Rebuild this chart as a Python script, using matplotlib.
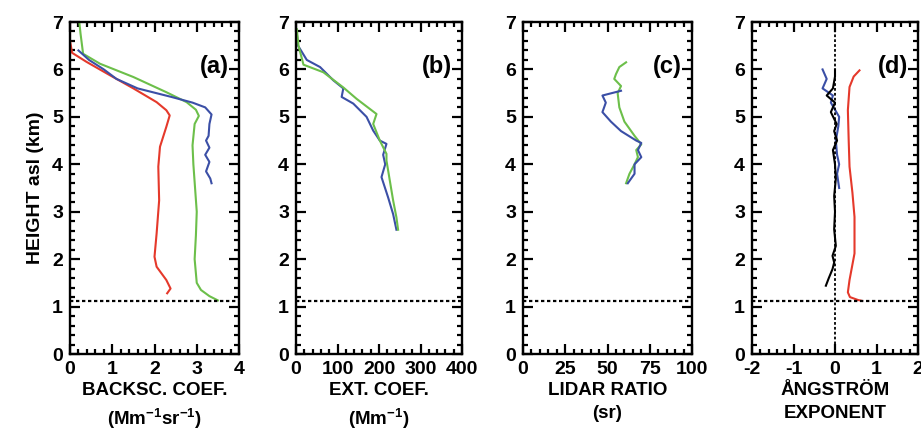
import numpy as np
import matplotlib
matplotlib.use("Agg")
import matplotlib.pyplot as plt
from matplotlib.ticker import MultipleLocator

plt.rcParams['font.family'] = ['Liberation Sans', 'DejaVu Sans']
plt.rcParams['font.weight'] = 'bold'
plt.rcParams['axes.unicode_minus'] = False
plt.rcParams['mathtext.fontset'] = 'custom'
plt.rcParams['mathtext.bf'] = 'Liberation Sans:bold'
plt.rcParams['mathtext.rm'] = 'Liberation Sans:bold'
plt.rcParams['mathtext.default'] = 'bf'

# (a) backscatter coefficient, Mm-1 sr-1
bsc_red_x = [0, 0, 0.05, 0.39, 0.94, 1.5, 2.05, 2.28, 2.36, 2.28, 2.13, 2.09, 2.11, 2.05, 2.0, 2.05, 2.28, 2.38, 2.3]
bsc_red_h = [7.0, 6.6, 6.35, 6.16, 5.88, 5.6, 5.31, 5.14, 5.03, 4.79, 4.37, 3.95, 3.24, 2.54, 2.05, 1.84, 1.56, 1.38, 1.28]
bsc_grn_x = [0.22, 0.25, 0.31, 0.71, 1.5, 2.28, 2.76, 2.98, 3.05, 2.95, 2.9, 2.92, 3.0, 2.98, 2.95, 3.0, 3.1, 3.3, 3.5]
bsc_grn_h = [7.0, 6.75, 6.33, 6.12, 5.84, 5.52, 5.31, 5.15, 5.02, 4.85, 4.4, 4.0, 3.0, 2.5, 2.0, 1.5, 1.35, 1.22, 1.13]
bsc_blu_x = [0.2, 0.45, 0.8, 1.1, 1.6, 2.4, 2.9, 3.2, 3.35, 3.3, 3.28, 3.22, 3.3, 3.2, 3.3, 3.22, 3.32, 3.35]
bsc_blu_h = [6.4, 6.2, 6.0, 5.8, 5.6, 5.42, 5.3, 5.2, 5.05, 4.85, 4.6, 4.5, 4.35, 4.2, 4.05, 3.85, 3.7, 3.6]

# (b) extinction coefficient, Mm-1
ext_blu_x = [2, 5, 26, 58, 90, 114, 110, 138, 170, 186, 202, 218, 210, 215, 206, 222, 234, 242]
ext_blu_h = [6.75, 6.5, 6.2, 6.05, 5.77, 5.6, 5.42, 5.28, 5.0, 4.71, 4.5, 4.43, 4.2, 4.0, 3.73, 3.3, 2.95, 2.62]
ext_grn_x = [2, 6, 18, 66, 114, 146, 194, 186, 202, 218, 218, 226, 234, 242, 246]
ext_grn_h = [6.85, 6.5, 6.1, 5.94, 5.62, 5.38, 5.06, 4.85, 4.5, 4.22, 4.08, 3.66, 3.24, 2.88, 2.62]

# (c) lidar ratio, sr
lr_grn_x = [61, 57, 55, 54, 58, 56, 57, 60, 66, 70, 67, 68, 66, 63, 61]
lr_grn_h = [6.15, 6.05, 5.9, 5.8, 5.65, 5.5, 5.2, 4.9, 4.6, 4.42, 4.3, 4.15, 4.0, 3.8, 3.6]
lr_blu_x = [58, 47, 49, 47, 52, 58, 67, 70, 68, 70, 66, 66, 62]
lr_blu_h = [5.55, 5.45, 5.3, 5.1, 4.9, 4.7, 4.5, 4.45, 4.3, 4.15, 4.0, 3.8, 3.6]

# (d) Angstrom exponent
ae_red_x = [0.59, 0.45, 0.35, 0.31, 0.33, 0.35, 0.42, 0.47, 0.47, 0.35, 0.31, 0.36, 0.55, 0.65]
ae_red_h = [5.98, 5.85, 5.63, 5.14, 4.5, 3.95, 3.4, 2.89, 2.12, 1.56, 1.3, 1.2, 1.14, 1.12]
ae_blk_x = [-0.22, -0.15, -0.06, -0.02, -0.06, 0.02, -0.02, 0.0, -0.02, 0.02, 0.0, -0.05, 0.05, -0.02, 0.04, -0.1, 0.0, -0.2, -0.05, -0.02, 0.0, 0.0]
ae_blk_h = [1.44, 1.6, 1.79, 1.93, 2.07, 2.28, 2.63, 3.0, 3.33, 3.7, 4.0, 4.3, 4.5, 4.7, 4.85, 5.1, 5.3, 5.45, 5.6, 5.75, 5.85, 6.0]
ae_blu_x = [0.1, 0.05, 0.1, 0.05, 0.02, 0.08, 0.1, -0.1, -0.05, -0.3, -0.2, -0.3]
ae_blu_h = [3.5, 3.8, 4.0, 4.2, 4.5, 4.8, 5.0, 5.3, 5.45, 5.6, 5.8, 6.0]

RED = '#e5392b'
GREEN = '#6cbf4a'
BLUE = '#3b4fa6'

PBL = 1.12

fig = plt.figure(figsize=(9.21, 4.4), dpi=100)
W, H = 921, 440
lefts = [70, 296, 523, 752]
widths = [169, 166, 169, 166]
top, bot = 22, 354

panels = [
    dict(xlim=(0, 4), major=1, minor=0.2, label='BACKSC. COEF.\n(Mm$^{-1}$sr$^{-1}$)', tag='(a)',
         lines=[(bsc_red_x, bsc_red_h, RED), (bsc_grn_x, bsc_grn_h, GREEN), (bsc_blu_x, bsc_blu_h, BLUE)]),
    dict(xlim=(0, 400), major=100, minor=20, label='EXT. COEF.\n(Mm$^{-1}$)', tag='(b)',
         lines=[(ext_blu_x, ext_blu_h, BLUE), (ext_grn_x, ext_grn_h, GREEN)]),
    dict(xlim=(0, 100), major=25, minor=5, label='LIDAR RATIO\n(sr)', tag='(c)',
         lines=[(lr_grn_x, lr_grn_h, GREEN), (lr_blu_x, lr_blu_h, BLUE)]),
    dict(xlim=(-2, 2), major=1, minor=0.2, label='ÅNGSTRÖM\nEXPONENT', tag='(d)',
         lines=[(ae_red_x, ae_red_h, RED), (ae_blu_x, ae_blu_h, BLUE), (ae_blk_x, ae_blk_h, 'black')]),
]

for i, p in enumerate(panels):
    ax = fig.add_axes([lefts[i] / W, 1 - bot / H, widths[i] / W, (bot - top) / H])
    for x, h, c in p['lines']:
        ax.plot(x, h, color=c, lw=1.5)
    ax.axhline(PBL, color='black', ls=(0, (1.5, 1.2)), lw=1.6)
    if i == 3:
        ax.axvline(0, color='black', ls=(0, (1.5, 1.2)), lw=1.3)
    ax.set_xlim(*p['xlim'])
    ax.set_ylim(0, 7)
    ax.xaxis.set_major_locator(MultipleLocator(p['major']))
    ax.xaxis.set_minor_locator(MultipleLocator(p['minor']))
    ax.yaxis.set_major_locator(MultipleLocator(1))
    ax.yaxis.set_minor_locator(MultipleLocator(0.2))
    ax.tick_params(which='both', direction='in', top=True, right=True, width=1.6)
    ax.tick_params(which='major', length=7, labelsize=14, pad=5)
    ax.tick_params(which='minor', length=3.5)
    for s in ax.spines.values():
        s.set_linewidth(1.7)
    ax.set_xlabel(p['label'], fontsize=13.5, fontweight='bold', linespacing=1.45, labelpad=3)
    ax.text(0.94, 0.865, p['tag'], transform=ax.transAxes, ha='right', va='center',
            fontsize=17, fontweight='bold')
    if i == 0:
        ax.set_ylabel('HEIGHT asl (km)', fontsize=14, fontweight='bold', labelpad=6)

fig.savefig('out.png', dpi=100)
